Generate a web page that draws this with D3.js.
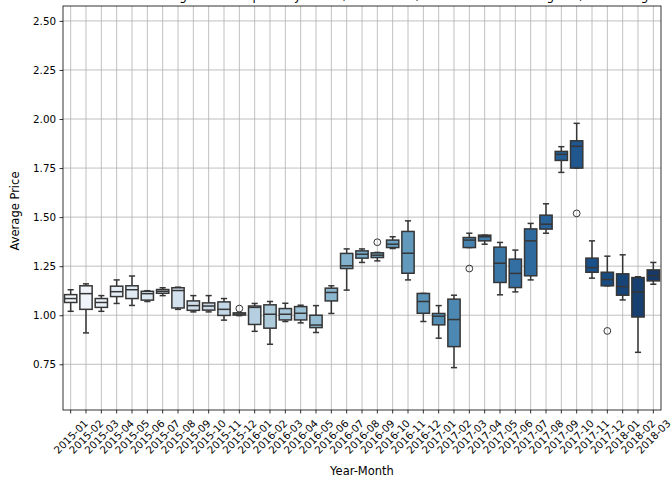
<!DOCTYPE html>
<html><head><meta charset="utf-8">
<script src="https://cdn.jsdelivr.net/npm/d3@7"></script>
<style>html,body{margin:0;padding:0;background:#fff;}svg{display:block;}</style>
</head><body>
<script>
const months = ["2015-01","2015-02","2015-03","2015-04","2015-05","2015-06","2015-07","2015-08","2015-09","2015-10","2015-11","2015-12",
"2016-01","2016-02","2016-03","2016-04","2016-05","2016-06","2016-07","2016-08","2016-09","2016-10","2016-11","2016-12",
"2017-01","2017-02","2017-03","2017-04","2017-05","2017-06","2017-07","2017-08","2017-09","2017-10","2017-11","2017-12",
"2018-01","2018-02","2018-03"];
const whiskerLow  = [1.02,0.91,1.02,1.06,1.05,1.07,1.10,1.03,1.017,1.017,0.975,0.998,0.918,0.852,0.968,0.961,0.912,1.009,1.128,1.269,1.277,1.34,1.18,0.968,0.883,0.733,1.345,1.362,1.104,1.119,1.18,1.418,1.728,1.75,1.189,1.15,1.078,0.811,1.158];
const q1          = [1.065,1.03,1.04,1.095,1.085,1.077,1.112,1.037,1.025,1.026,0.999,1.001,0.953,0.934,0.976,0.976,0.937,1.073,1.238,1.291,1.294,1.345,1.214,1.01,0.951,0.84,1.345,1.379,1.167,1.141,1.201,1.439,1.789,1.75,1.219,1.15,1.102,0.991,1.175];
const medians     = [1.085,1.11,1.065,1.12,1.13,1.11,1.122,1.126,1.049,1.047,1.03,1.006,1.04,1.005,1.005,1.01,0.95,1.116,1.252,1.311,1.306,1.362,1.316,1.07,0.995,0.978,1.383,1.40,1.265,1.213,1.379,1.464,1.82,1.861,1.243,1.182,1.146,1.119,1.202];
const q3          = [1.105,1.15,1.085,1.148,1.15,1.122,1.131,1.14,1.073,1.063,1.068,1.012,1.047,1.053,1.034,1.044,1.00,1.138,1.315,1.328,1.318,1.383,1.427,1.111,1.009,1.082,1.396,1.408,1.347,1.286,1.44,1.51,1.835,1.889,1.291,1.219,1.211,1.192,1.231];
const whiskerHigh = [1.13,1.16,1.10,1.18,1.20,1.125,1.14,1.143,1.10,1.10,1.085,1.013,1.06,1.07,1.061,1.051,1.049,1.15,1.338,1.338,1.32,1.40,1.481,1.111,1.049,1.102,1.418,1.408,1.371,1.332,1.468,1.568,1.859,1.978,1.379,1.301,1.308,1.196,1.269];
const outlierMonths = ["2015-12","2016-09","2017-03","2017-10","2017-12"];
const outlierValues = [1.034,1.372,1.238,1.519,0.92];
const yTicks = [0.75,1.00,1.25,1.50,1.75,2.00,2.25,2.50];
const titleText = "Boxplot of the Distribution of Average Avocado price by Month, 2015-2018, Conventional and Organic, All US Regions, Weekly Data";

const W = 672, H = 477;
const m = {left:63, right:661, top:6, bottom:410};
const svg = d3.select("body").append("svg").attr("width",W).attr("height",H)
  .style("font-family","'DejaVu Sans', sans-serif");

const x = d3.scaleBand().domain(months).range([m.left,m.right]).paddingInner(0).paddingOuter(0);
const y = d3.scaleLinear().domain([0.517,2.576]).range([m.bottom,m.top]);

// Colors: matplotlib Blues, seaborn palette, desaturated 0.75
const blues = ["#f7fbff","#deebf7","#c6dbef","#9ecae1","#6baed6","#4292c6","#2171b5","#08519c","#08306b"];
const cmap = d3.scaleLinear().domain(d3.range(9).map(i=>i/8)).range(blues).interpolate(d3.interpolateRgb);
function colorFor(i){
  const t = (i+1)/(months.length+1);
  const c = d3.hsl(cmap(t));
  c.s = c.s*0.75;
  return c.formatHex();
}
const gray = "#363636";

// grid
const g = svg.append("g");
g.selectAll(".hg").data(yTicks).join("line")
  .attr("x1",m.left).attr("x2",m.right).attr("y1",d=>y(d)).attr("y2",d=>y(d))
  .attr("stroke","#b0b0b0").attr("stroke-width",0.8);
g.selectAll(".vg").data(months).join("line")
  .attr("x1",d=>x(d)+x.bandwidth()/2).attr("x2",d=>x(d)+x.bandwidth()/2)
  .attr("y1",m.top).attr("y2",m.bottom)
  .attr("stroke","#b0b0b0").attr("stroke-width",0.8);

// boxes
const bw = x.bandwidth()*0.8;
const cw = bw*0.5;
months.forEach((mo,i)=>{
  const cx = x(mo)+x.bandwidth()/2;
  const bg = svg.append("g");
  bg.append("line").attr("x1",cx).attr("x2",cx).attr("y1",y(whiskerLow[i])).attr("y2",y(q1[i]))
    .attr("stroke",gray).attr("stroke-width",1.5);
  bg.append("line").attr("x1",cx).attr("x2",cx).attr("y1",y(q3[i])).attr("y2",y(whiskerHigh[i]))
    .attr("stroke",gray).attr("stroke-width",1.5);
  bg.append("line").attr("x1",cx-cw/2).attr("x2",cx+cw/2).attr("y1",y(whiskerLow[i])).attr("y2",y(whiskerLow[i]))
    .attr("stroke",gray).attr("stroke-width",1.5);
  bg.append("line").attr("x1",cx-cw/2).attr("x2",cx+cw/2).attr("y1",y(whiskerHigh[i])).attr("y2",y(whiskerHigh[i]))
    .attr("stroke",gray).attr("stroke-width",1.5);
  bg.append("rect").attr("x",cx-bw/2).attr("width",bw)
    .attr("y",y(q3[i])).attr("height",Math.max(0.5,y(q1[i])-y(q3[i])))
    .attr("fill",colorFor(i)).attr("stroke",gray).attr("stroke-width",1.5);
  bg.append("line").attr("x1",cx-bw/2).attr("x2",cx+bw/2).attr("y1",y(medians[i])).attr("y2",y(medians[i]))
    .attr("stroke",gray).attr("stroke-width",1.5);
});
svg.selectAll(".fl").data(outlierMonths).join("circle")
  .attr("cx",d=>x(d)+x.bandwidth()/2).attr("cy",(d,i)=>y(outlierValues[i]))
  .attr("r",3.4).attr("fill","none").attr("stroke",gray).attr("stroke-width",1);

// spines
svg.append("rect").attr("x",m.left).attr("y",m.top).attr("width",m.right-m.left).attr("height",m.bottom-m.top)
  .attr("fill","none").attr("stroke","#000").attr("stroke-width",0.8);

// y axis
const ya = svg.append("g").attr("transform",`translate(${m.left},0)`)
  .call(d3.axisLeft(y).tickValues(yTicks).tickFormat(d3.format(".2f")).tickSize(3.5).tickPadding(3.5));
ya.select(".domain").remove();
ya.selectAll("text").attr("font-size",10.3).attr("fill","#000").style("font-family","'DejaVu Sans', sans-serif");
ya.selectAll("line").attr("stroke","#000").attr("stroke-width",0.8);

// x axis
const xa = svg.append("g").attr("transform",`translate(0,${m.bottom})`)
  .call(d3.axisBottom(x).tickSize(3.5).tickFormat(""));
xa.select(".domain").remove();
xa.selectAll("line").attr("stroke","#000").attr("stroke-width",0.8);
const lblG = svg.append("g");
months.forEach(mo=>{
  const cx = x(mo)+x.bandwidth()/2;
  const t = lblG.append("text").text(mo).attr("font-size",10.3).attr("fill","#000")
    .attr("text-anchor","middle").attr("dominant-baseline","central");
  const w = t.node().getComputedTextLength();
  const h = 12;
  const half = (w+h)*Math.SQRT1_2/2;
  const cy = m.bottom + 7 + half;
  t.attr("transform",`translate(${cx},${cy}) rotate(-45)`);
});

svg.append("text").text("Year-Month").attr("x",(m.left+m.right)/2).attr("y",475)
  .attr("text-anchor","middle").attr("font-size",11.5).attr("fill","#000");
svg.append("text").text("Average Price").attr("transform",`translate(19,${(m.top+m.bottom)/2+3}) rotate(-90)`)
  .attr("text-anchor","middle").attr("font-size",11.5).attr("fill","#000");
svg.append("text").text(titleText).attr("x",(m.left+m.right)/2).attr("y",0)
  .attr("text-anchor","middle").attr("font-size",12).attr("fill","#000");
</script>
</body></html>
